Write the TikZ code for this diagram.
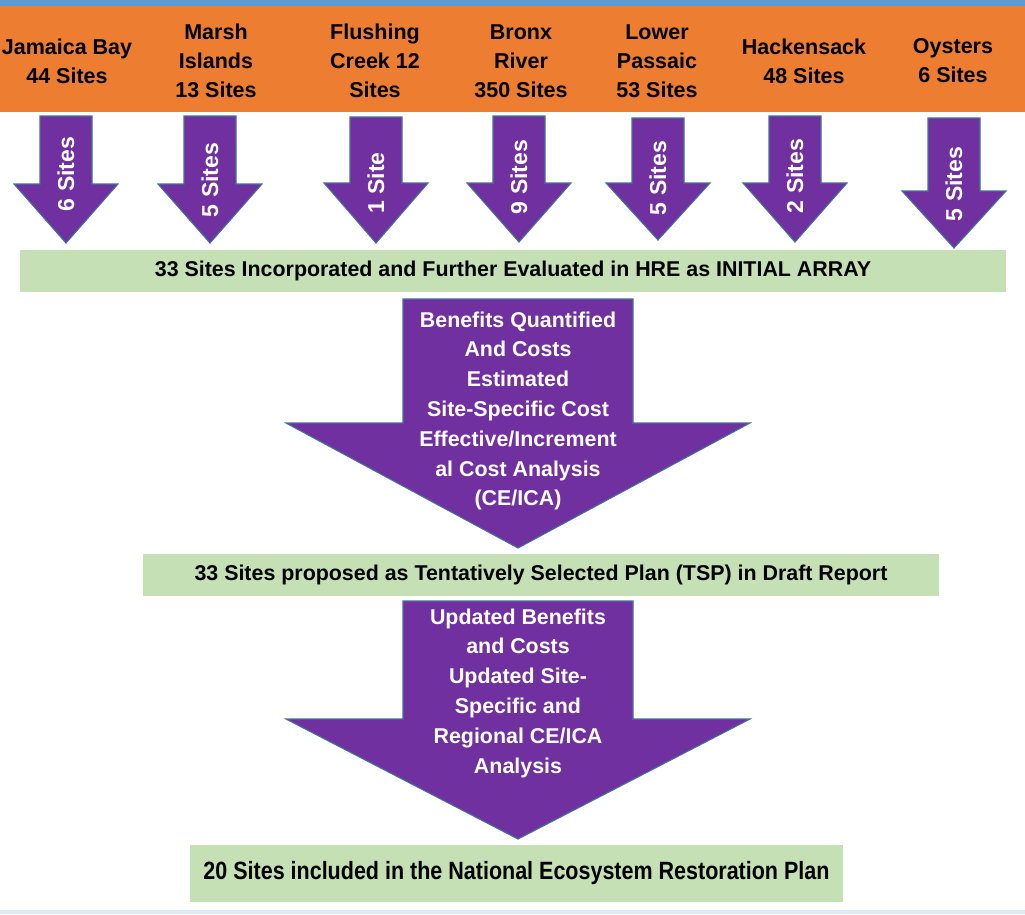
\documentclass[tikz,border=0pt]{standalone}
\usepackage{fontspec}
\setmainfont{Liberation Sans}
\newfontfamily\narrowfont{Liberation Sans}[FakeStretch=0.86]
\definecolor{orng}{HTML}{ED7D31}
\definecolor{topblue}{HTML}{5B9BD5}
\definecolor{botblue}{HTML}{DEEBF7}
\definecolor{grn}{HTML}{C5E0B4}
\definecolor{purp}{HTML}{7030A0}
\definecolor{edgeblue}{HTML}{41719C}
\newcommand\dnarr[6]{% cx, top, shoulder, tip, half shaft, half head
  \draw[arrowshape] ({#1-#5},#2) -- ({#1+#5},#2) -- ({#1+#5},#3) -- ({#1+#6},#3)
    -- (#1,#4) -- ({#1-#6},#3) -- ({#1-#5},#3) -- cycle;}
\begin{document}
\begin{tikzpicture}[x=1pt,y=-1pt,
  arrowshape/.style={fill=purp,draw=edgeblue,line width=1.1pt,line join=miter},
  hdr/.style={font=\fontsize{21.5}{29}\selectfont\bfseries,align=center,text=black,inner sep=0pt},
  arrtext/.style={font=\fontsize{23}{28}\selectfont\bfseries,text=white,rotate=90,inner sep=0pt},
  bigtext/.style={font=\fontsize{21.4}{29.8}\selectfont\bfseries,align=center,text=white,inner sep=0pt},
  gbox/.style={fill=grn,draw=none,inner sep=0pt,font=\fontsize{21.4}{26}\selectfont\bfseries,text=black}]
\useasboundingbox[fill=white] (0,0) rectangle (1025,914);
% bands
\fill[topblue] (0,0) rectangle (1025,6);
\fill[orng] (0,6) rectangle (1025,112);
\fill[botblue] (0,910) rectangle (1025,914);
% header texts
\node[hdr] (h1) at (67,61.5) {Jamaica Bay\\44 Sites};
\node[hdr] (h2) at (216,61) {Marsh\\Islands\\13 Sites};
\node[hdr] (h3) at (375,61) {Flushing\\Creek 12\\Sites};
\node[hdr] (h4) at (521,61) {Bronx\\River\\350 Sites};
\node[hdr] (h5) at (657,61) {Lower\\Passaic\\53 Sites};
\node[hdr] (h6) at (804,61.5) {Hackensack\\48 Sites};
\node[hdr] (h7) at (953,60.5) {Oysters\\6 Sites};
% small arrows
\dnarr{66}{116}{184}{243}{26}{52}
\dnarr{210}{116}{184}{243}{26}{52}
\dnarr{376}{117}{183}{243}{26}{52}
\dnarr{519}{116}{183}{242}{26}{52}
\dnarr{658}{118}{183}{240}{26}{52}
\dnarr{795}{116}{183}{242}{26}{52}
\dnarr{954}{118}{191}{248}{26}{52}
\node[arrtext] (a1) at (66,174) {6 Sites};
\node[arrtext] (a2) at (210,180) {5 Sites};
\node[arrtext] (a3) at (376,183) {1 Site};
\node[arrtext] (a4) at (519,177) {9 Sites};
\node[arrtext] (a5) at (658,178) {5 Sites};
\node[arrtext] (a6) at (795,176) {2 Sites};
\node[arrtext] (a7) at (954,184) {5 Sites};
% green boxes
\node[gbox,minimum width=986pt,minimum height=42pt] (g1) at (513,271)
  {33 Sites Incorporated and Further Evaluated in HRE as INITIAL ARRAY};
\node[gbox,minimum width=796pt,minimum height=42pt] (g2) at (541,575)
  {33 Sites proposed as Tentatively Selected Plan (TSP) in Draft Report};
\node[gbox,minimum width=653pt,minimum height=57pt,font=\fontsize{25}{30}\narrowfont\bfseries] (g3) at (516.5,873.5)
  {20 Sites included in the National Ecosystem Restoration Plan};
% big arrows
\dnarr{518}{299}{423}{548}{115}{232}
\dnarr{518}{601}{719}{839}{115}{232}
\node[bigtext] (b1) at (518,411) {Benefits Quantified\\And Costs\\Estimated\\Site-Specific Cost\\Effective/Increment\\al Cost Analysis\\(CE/ICA)};
\node[bigtext] (b2) at (518,693) {Updated Benefits\\and Costs\\Updated Site-\\Specific and\\Regional CE/ICA\\Analysis};
\end{tikzpicture}
\end{document}
